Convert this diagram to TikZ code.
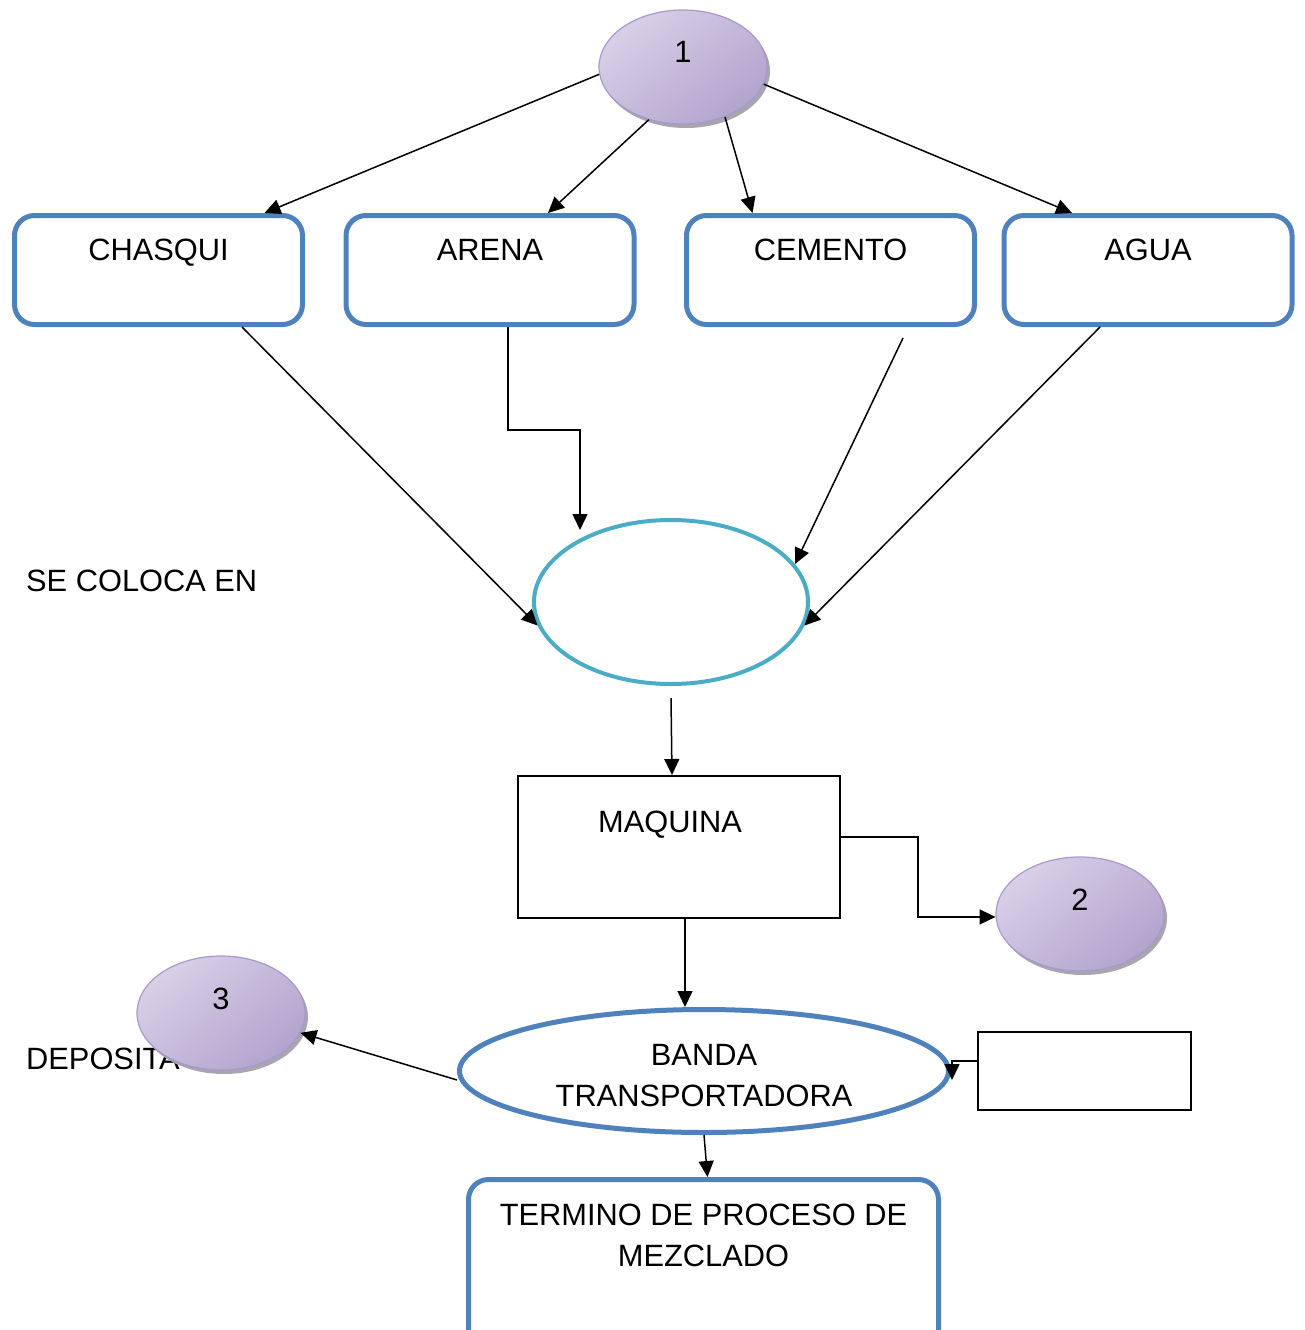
\documentclass[tikz,border=0pt]{standalone}
\usepackage{fontspec}
\setmainfont{Liberation Sans}
\usetikzlibrary{shapes.geometric,arrows.meta,shadows}
\definecolor{boxblue}{HTML}{4F81BD}
\definecolor{mixteal}{HTML}{4BACC6}
\definecolor{coinlight}{HTML}{E8E4F1}
\definecolor{coinmid}{HTML}{D8CFE7}
\definecolor{coindark}{HTML}{B3A4CE}
\definecolor{coinedge}{HTML}{A898CB}
\definecolor{coinrim}{HTML}{A9A5AF}
\begin{document}
\begin{tikzpicture}[x=1pt,y=1pt,
  font=\fontsize{30.8}{41}\selectfont,
  procbox/.style={draw=boxblue, line width=5pt, rounded corners=20pt,
    minimum width=288pt, inner sep=0pt, text height=44.5pt, text depth=64.5pt, anchor=north},
  coin/.style={ellipse, minimum width=168pt, minimum height=114pt, inner sep=0pt,
    draw=coinedge, line width=1.2pt, top color=coinmid, middle color=coinlight,
    bottom color=coindark, shading angle=40,
    general shadow={shadow xshift=3pt, shadow yshift=-4pt, fill=coinrim},
    text height=22pt, text depth=30pt},
  plainbox/.style={draw=black, line width=2pt, inner sep=0pt},
  arr/.style={draw=black, line width=1.5pt, -{Triangle[length=16pt,width=15pt]}},
  label text/.style={inner sep=0pt, anchor=base west}
]
\useasboundingbox (0,0) rectangle (1305,-1330);
\clip (0,0) rectangle (1305,-1330);

% loose captions
\node[label text] (secoloca) at (26,-591) {SE COLOCA EN};
\node[label text] (deposita) at (26,-1069) {DEPOSITA};

% numbered connectors
\node[coin] (e1) at (683,-67) {1};
\node[coin] (e2) at (1080,-914) {2};
\node[coin] (e3) at (221,-1013) {3};

% ingredients
\node[procbox] (chasqui) at (158.5,-213) {CHASQUI};
\node[procbox] (arena)   at (490,-213)   {ARENA};
\node[procbox] (cemento) at (830.5,-213) {CEMENTO};
\node[procbox] (agua)    at (1148,-213)  {AGUA};

% mixing container
\node[ellipse, draw=mixteal, line width=4pt, minimum width=274pt, minimum height=164pt,
      inner sep=0pt] (mix) at (671,-602) {};

% machine
\node[plainbox, minimum width=322pt, text height=56pt, text depth=86pt] (maquina)
  at (679,-775) [anchor=north] {MAQUINA\hspace*{18pt}};

% conveyor belt
\node[ellipse, draw=boxblue, line width=5pt, minimum width=489pt, minimum height=123pt,
      inner sep=0pt, align=center] (banda) at (704,-1071)
  {\rule{0pt}{30pt}BANDA\\TRANSPORTADORA};

% empty side box
\node[plainbox, minimum width=213pt, minimum height=78pt] (side) at (1084.5,-1071) {};

% final step
\node[draw=boxblue, line width=5pt, rounded corners=20pt, minimum width=470pt,
      minimum height=172pt, inner sep=0pt, anchor=north, align=center]
  (termino) at (703.5,-1177)
  {TERMINO DE PROCESO DE\\MEZCLADO\\[20pt]\mbox{}};

% arrows from 1 to the ingredients
\draw[arr] (e1.185) -- ([xshift=106]chasqui.north);
\draw[arr] (e1.237) -- ([xshift=58]arena.north);
\draw[arr] (e1.310) -- ([xshift=-78]cemento.north);
\draw[arr] (e1.348) -- ([xshift=-76]agua.north);

% ingredients into the container
\draw[arr] ([xshift=83.5]chasqui.south) -- (mix.190);
\draw[arr] ([xshift=18]arena.south) -- ++(0,-103) -| ([xshift=-91,yshift=-12]mix.north);
\draw[arr] ([xshift=72.5,yshift=-11]cemento.south) -- (mix.17);
\draw[arr] ([xshift=-48]agua.south) -- (mix.350);

% container to machine, machine onwards
\draw[arr] ([yshift=-12]mix.south) -- ([xshift=-7]maquina.north);
\draw[arr] ([yshift=10]maquina.east) -- ++(77,0) |- (e2.182);
\draw[arr] ([xshift=6]maquina.south) -- ([xshift=6]maquina.south |- banda.north);

% belt connections
\draw[arr] ([yshift=10]side.west) -| ([xshift=1,yshift=-9]banda.east);
\draw[arr] ([yshift=-9]banda.west) -- (e3.346);
\draw[arr] (banda.south) -- ([xshift=4]termino.north);
\end{tikzpicture}
\end{document}
